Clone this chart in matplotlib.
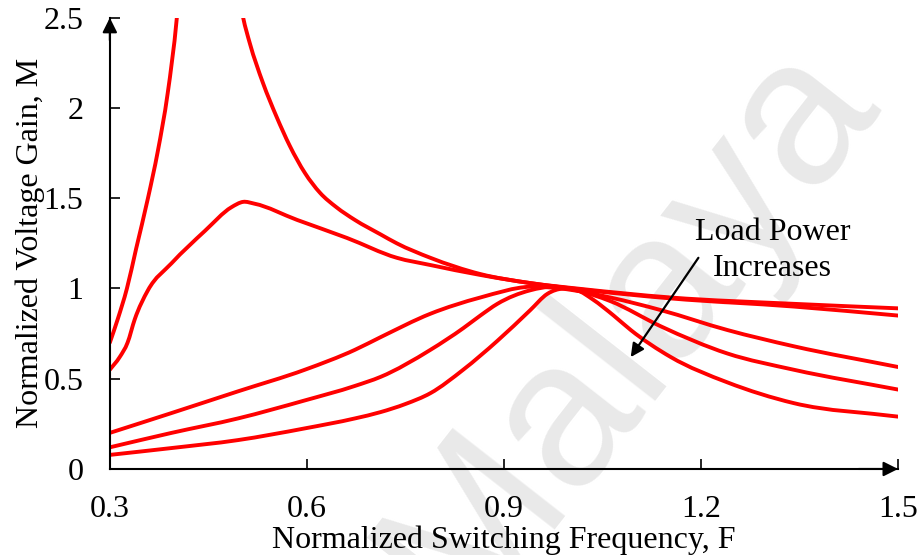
import matplotlib.pyplot as plt
from matplotlib.path import Path
from matplotlib.patches import PathPatch
import numpy as np

plt.rcParams['font.family'] = ['Liberation Serif', 'DejaVu Serif']

# gain curves, light load -> heavy load
f_a1 = [0.300, 0.312, 0.326, 0.340, 0.358, 0.373, 0.388, 0.402, 0.412]
m_a1 = [0.70, 0.83, 1.00, 1.22, 1.50, 1.76, 2.08, 2.50, 2.95]
f_a2 = [0.495, 0.503, 0.513, 0.533, 0.554, 0.574, 0.597, 0.620, 0.645, 0.673,
        0.712, 0.737, 0.788, 0.864, 0.940, 1.016, 1.154, 1.341, 1.500]
m_a2 = [2.66, 2.50, 2.36, 2.14, 1.95, 1.79, 1.64, 1.53, 1.45, 1.38,
        1.30, 1.25, 1.17, 1.08, 1.03, 0.998, 0.95, 0.915, 0.89]

f_b = [0.300, 0.315, 0.327, 0.338, 0.358, 0.394, 0.445, 0.485, 0.503, 0.520,
       0.585, 0.661, 0.737, 0.788, 0.864, 0.940, 1.016, 1.154, 1.341, 1.500]
m_b = [0.55, 0.62, 0.70, 0.83, 0.99, 1.14, 1.32, 1.45, 1.48, 1.47,
       1.38, 1.28, 1.17, 1.13, 1.075, 1.03, 0.995, 0.945, 0.90, 0.85]

f_c = [0.300, 0.394, 0.495, 0.597, 0.673, 0.712, 0.788, 0.864, 0.940,
       0.986, 1.062, 1.139, 1.240, 1.341, 1.500]
m_c = [0.20, 0.31, 0.43, 0.55, 0.66, 0.73, 0.86, 0.95, 1.01,
       1.00, 0.95, 0.88, 0.77, 0.68, 0.565]

f_d = [0.300, 0.394, 0.495, 0.597, 0.673, 0.712, 0.788, 0.838, 0.864,
       0.890, 0.940, 0.975, 1.010, 1.062, 1.139, 1.240, 1.341, 1.500]
m_d = [0.12, 0.20, 0.28, 0.38, 0.46, 0.51, 0.66, 0.78, 0.85,
       0.915, 0.99, 1.01, 0.99, 0.93, 0.79, 0.64, 0.55, 0.44]

f_e = [0.300, 0.394, 0.495, 0.597, 0.673, 0.712, 0.750, 0.788, 0.838, 0.890,
       0.940, 0.966, 0.990, 1.012, 1.035, 1.067, 1.093, 1.154, 1.240, 1.341, 1.500]
m_e = [0.078, 0.116, 0.16, 0.225, 0.28, 0.315, 0.36, 0.42, 0.55, 0.71,
       0.88, 0.97, 1.00, 0.99, 0.94, 0.85, 0.77, 0.62, 0.48, 0.365, 0.29]

x_ticks = [0.3, 0.6, 0.9, 1.2, 1.5]
y_ticks = [0, 0.5, 1, 1.5, 2, 2.5]
x_labels = ['0.3', '0.6', '0.9', '1.2', '1.5']
y_labels = ['0', '0.5', '1', '1.5', '2', '2.5']


def smooth_line(ax, xs, ys, **kw):
    """Smoothed line through the points: cubic Hermite segments drawn as Beziers."""
    x = np.asarray(xs, float)
    y = np.asarray(ys, float)
    h = np.diff(x)
    d = np.diff(y) / h
    m = np.empty_like(x)
    m[0], m[-1] = d[0], d[-1]
    m[1:-1] = (h[1:] * d[:-1] + h[:-1] * d[1:]) / (h[:-1] + h[1:])
    verts = [(x[0], y[0])]
    codes = [Path.MOVETO]
    for i in range(len(x) - 1):
        verts += [(x[i] + h[i] / 3, y[i] + m[i] * h[i] / 3),
                  (x[i + 1] - h[i] / 3, y[i + 1] - m[i + 1] * h[i] / 3),
                  (x[i + 1], y[i + 1])]
        codes += [Path.CURVE4] * 3
    ax.add_patch(PathPatch(Path(verts, codes), fill=False, **kw))


fig = plt.figure(figsize=(9.23, 5.55), dpi=100)
ax = fig.add_axes([0.119, 0.155, 0.854, 0.813])
ax.set_facecolor('none')

# faint background watermark
fig.text(0.68, 0.41, 'Malaya', fontsize=150, color='#e9e9e9', rotation=52,
         ha='center', va='center', family='Liberation Sans', zorder=-1)

for f, m in [(f_a1, m_a1), (f_a2, m_a2), (f_b, m_b), (f_c, m_c), (f_d, m_d), (f_e, m_e)]:
    smooth_line(ax, f, m, edgecolor='#ff0000', lw=2.8, capstyle='round')

ax.set_xlim(0.3, 1.5)
ax.set_ylim(0, 2.5)
ax.set_xticks(x_ticks)
ax.set_yticks(y_ticks)
ax.set_xticklabels(x_labels)
ax.set_yticklabels(y_labels)
ax.tick_params(direction='in', length=7, width=1.2, labelsize=23)
ax.tick_params(axis='x', pad=19)
ax.tick_params(axis='y', pad=19)

for s in ['top', 'right']:
    ax.spines[s].set_visible(False)
for s in ['left', 'bottom']:
    ax.spines[s].set_linewidth(1.5)

# arrow heads on the axes
ax.annotate('', xy=(1.0, 0), xytext=(0.95, 0), xycoords='axes fraction',
            arrowprops=dict(arrowstyle='-|>', color='black', lw=1.5,
                            mutation_scale=22, shrinkA=0, shrinkB=0))
ax.annotate('', xy=(0, 1.0), xytext=(0, 0.95), xycoords='axes fraction',
            arrowprops=dict(arrowstyle='-|>', color='black', lw=1.5,
                            mutation_scale=22, shrinkA=0, shrinkB=0))

ax.set_xlabel('Normalized Switching Frequency, F', fontsize=23, labelpad=1)
ax.set_ylabel('Normalized Voltage Gain, M', fontsize=23, labelpad=-1)

ax.annotate('', xy=(1.093, 0.62), xytext=(1.196, 1.17),
            arrowprops=dict(arrowstyle='-|>', color='black', lw=1.6,
                            mutation_scale=20, shrinkA=0, shrinkB=0))
ax.text(1.309, 1.21, 'Load Power\nIncreases', fontsize=23, ha='center',
        va='center', linespacing=1.3)

fig.savefig('out.png', dpi=100)
